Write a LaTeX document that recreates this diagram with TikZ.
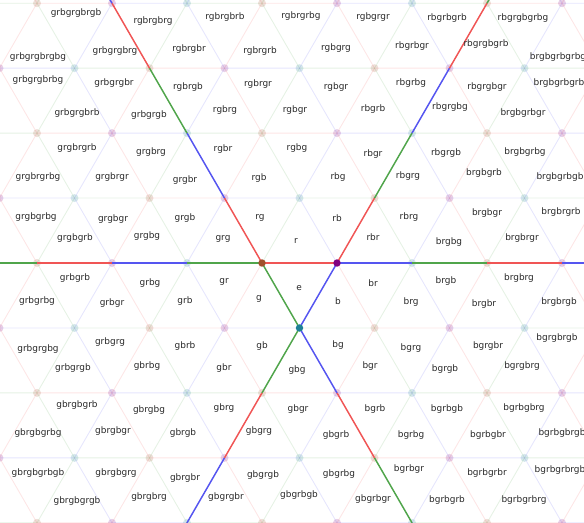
\documentclass[tikz,border=0pt]{standalone}
\usepackage{fontspec}
\setmainfont{DejaVu Sans}

\definecolor{wallr}{RGB}{240,85,85}
\definecolor{wallg}{RGB}{80,165,75}
\definecolor{wallb}{RGB}{85,85,240}
\definecolor{vtxbrown}{RGB}{160,82,45}
\definecolor{vtxpurple}{RGB}{128,0,128}
\definecolor{vtxteal}{RGB}{30,128,150}

\tikzset{
  faint/.style={line width=0.65pt, opacity=0.15},
  wall/.style={line width=1.1pt},
  vtx/.style={circle, inner sep=0pt, minimum size=5.5pt},
  ghost/.style={vtx, minimum size=6pt, opacity=0.18},
  lbl/.style={font=\fontsize{6.7}{7}\selectfont, text=black!85, inner sep=0pt}
}

\begin{document}
\begin{tikzpicture}[x=0.75pt, y=-0.75pt]
\useasboundingbox (0,0) rectangle (584,522);
\clip (0,0) rectangle (584,522);

% lattice points (i,j), one side = 75px
\foreach \i in {-9,...,9}
  \foreach \j in {-5,...,6}
    \coordinate (v\i x\j) at ({262+75*(\i)+37.5*(\j)},{263-64.95*(\j)});

% faint tiling, edge colour from vertex type
\foreach \i in {-8,...,8}
  \foreach \j in {-5,...,5}{
    \pgfmathtruncatemacro\t{mod(\i-(\j)+30,3)}
    \pgfmathtruncatemacro\ip{\i+1}
    \pgfmathtruncatemacro\im{\i-1}
    \pgfmathtruncatemacro\jp{\j+1}
    \ifcase\t \def\hc{wallr}\def\dc{wallg}\or \def\hc{wallb}\def\dc{wallr}\or \def\hc{wallg}\def\dc{wallb}\fi
    \draw[faint, draw=\hc] (v\i x\j) -- (v\ip x\j) (v\i x\j) -- (v\im x\jp);
    \draw[faint, draw=\dc] (v\i x\j) -- (v\i x\jp);
  }

% faint vertices
\foreach \i in {-8,...,8}
  \foreach \j in {-5,...,5}{
    \pgfmathtruncatemacro\t{mod(\i-(\j)+30,3)}
    \ifcase\t \def\vc{vtxbrown}\or \def\vc{vtxpurple}\or \def\vc{vtxteal}\fi
    \node[ghost, fill=\vc] (d\i x\j) at (v\i x\j) {};
  }

% the three walls of e
\foreach \i in {-5,...,5}{
  \pgfmathtruncatemacro\t{mod(\i+30,3)}
  \pgfmathtruncatemacro\ip{\i+1}
  \ifcase\t \def\hc{wallr}\or \def\hc{wallb}\or \def\hc{wallg}\fi
  \draw[wall, draw=\hc] (v\i x0) -- (v\ip x0);
}
\foreach \j in {-5,...,5}{
  \pgfmathtruncatemacro\t{mod(1-(\j)+30,3)}
  \pgfmathtruncatemacro\jp{\j+1}
  \ifcase\t \def\dc{wallg}\or \def\dc{wallr}\or \def\dc{wallb}\fi
  \draw[wall, draw=\dc] (v1x\j) -- (v1x\jp);
}
\foreach \j in {-5,...,5}{
  \pgfmathtruncatemacro\i{-1*(\j)}
  \pgfmathtruncatemacro\im{-1*(\j)-1}
  \pgfmathtruncatemacro\jp{\j+1}
  \pgfmathtruncatemacro\t{mod(\i-(\j)+30,3)}
  \ifcase\t \def\hc{wallr}\or \def\hc{wallb}\or \def\hc{wallg}\fi
  \draw[wall, draw=\hc] (v\i x\j) -- (v\im x\jp);
}

\node[vtx, fill=vtxbrown] (vbr) at (v0x0) {};
\node[vtx, fill=vtxpurple] (vpu) at (v1x0) {};
\node[vtx, fill=vtxteal] (vte) at (v1x-1) {};

% words
\foreach \x/\y/\w in {
  76/13/grbgrgbrgb, 153/21/rgbrgbrg, 225/17/rgbrgbrb, 301/16/rgbrgrbg,
  373/17/rgbgrgr, 447/18/rbgrbgrb, 523/18/rbgrgbgrbg,
  38/57/grbgrgbrgbg, 115/51/grbgrgbrg, 189/49/rgbrgbr, 260/51/rgbrgrb,
  336/48/rgbgrg, 412/46/rbgrbgr, 486/44/rbgrgbgrb, 558/57/brgbgrbgrbg,
  38/80/grbgrgbrbg, 114/83/grbgrgbr, 188/87/rgbrgb, 258/84/rgbrgr,
  336/87/rgbgr, 411/83/rbgrbg, 487/87/rbgrgbgr, 559/83/brgbgrbgrb,
  77/113/grbgrgbrb, 149/115/grbgrgb, 225/110/rgbrg, 295/110/rgbgr,
  373/109/rbgrb, 450/107/rbgrgbg, 523/113/brgbgrbgr,
  77/148/grgbrgrb, 151/152/grgbrg, 223/149/rgbr, 297/148/rgbg,
  373/154/rbgr, 446/153/rbgrgb, 525/152/brgbgrbg,
  38/177/grgbrgrbg, 112/177/grgbrgr, 185/180/grgbr, 259/178/rgb,
  338/177/rbg, 408/176/rbgrg, 484/173/brgbgrb, 560/177/brgbgrbgb,
  36/217/grgbgrbg, 113/219/grgbgr, 185/218/grgb, 260/218/rg,
  337/218/rb, 409/217/rbrg, 487/213/brgbgr, 561/212/brgbrgrb,
  75/238/grgbgrb, 147/236/grgbg, 223/239/grg, 296/241/r,
  373/237/rbr, 449/242/brgbg, 522/238/brgbrgr,
  75/278/grbgrb, 150/283/grbg, 224/282/gr, 299/288/e,
  373/283/br, 446/281/brgb, 519/278/brgbrg,
  37/301/grbgrbg, 112/303/grbgr, 185/301/grb, 259/299/g,
  338/301/b, 411/302/brg, 484/304/brgbr, 559/302/brgbrgb,
  38/349/grbgrgbg, 110/342/grbgrg, 185/346/gbrb, 262/346/gb,
  338/345/bg, 411/348/bgrg, 488/346/bgrgbr, 557/338/bgrgbrgb,
  73/368/grbgrgb, 147/366/gbrbg, 224/368/gbr, 297/370/gbg,
  370/366/bgr, 445/369/bgrgb, 522/366/bgrgbrg,
  77/405/gbrgbgrb, 149/410/gbrgbg, 224/408/gbrg, 298/409/gbgr,
  375/409/bgrb, 447/409/bgrbgb, 524/408/bgrbgbrg,
  38/433/gbrgbgrbg, 113/431/gbrgbgr, 183/433/gbrgb, 259/431/gbgrg,
  336/435/gbgrb, 411/435/bgrbg, 488/435/bgrbgbr, 562/433/bgrbgbrgb,
  38/473/gbrgbgrbgb, 116/473/gbrgbgrg, 185/478/gbrgbr, 263/475/gbgrgb,
  339/474/gbgrbg, 409/469/bgrbgr, 487/473/bgrbgrbr, 560/470/bgrbgrbrgb,
  77/501/gbrgbgrgb, 149/497/gbrgbrg, 226/497/gbgrgbr, 299/495/gbgrbgb,
  373/499/gbgrbgr, 447/500/bgrbgrb, 524/500/bgrbgrbrg}
  \node[lbl] (t-\w) at (\x,\y) {\w};
\end{tikzpicture}
\end{document}
